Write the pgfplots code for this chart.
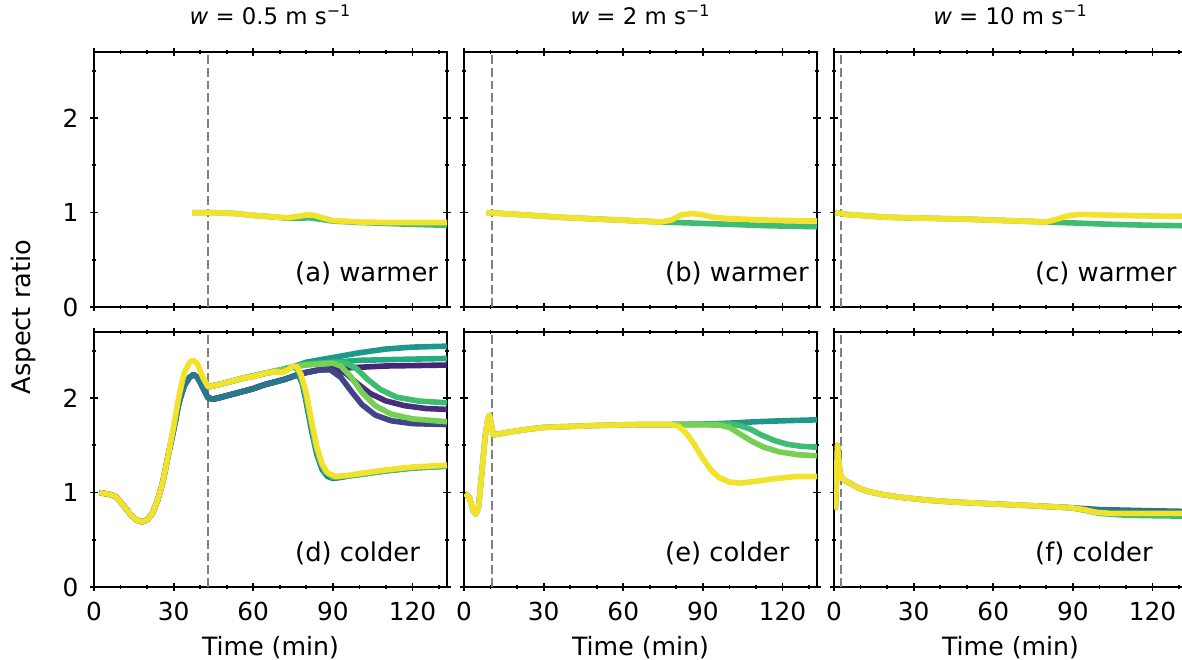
\documentclass[border=0pt]{standalone}
\usepackage{fontspec}
\setmainfont{DejaVu Sans}
\usepackage{pgfplots}
\pgfplotsset{compat=1.18}
\definecolor{vyel}{HTML}{F2E22C}
\definecolor{vgrn}{HTML}{3FBC73}
\definecolor{vlgr}{HTML}{75D054}
\definecolor{vtgr}{HTML}{25AB82}
\definecolor{vtea}{HTML}{1F988B}
\definecolor{vtbl}{HTML}{2A788E}
\definecolor{vpu1}{HTML}{482677}
\definecolor{vpu2}{HTML}{414487}
\definecolor{vpu3}{HTML}{472D7B}
\tikzset{
 vline/.style={line width=1.1pt, color=gray, dash pattern=on 4.4pt off 2pt},
 plab/.style={anchor=base west, font=\fontsize{12.9}{15}\selectfont},
}
\pgfplotsset{
 panel/.style={
  scale only axis, width=176.5pt, height=127.5pt,
  xmin=0, xmax=133, ymin=0, ymax=2.7,
  xtick={0,30,60,90,120}, minor xtick={10,20,40,50,70,80,100,110,130},
  ytick={0,1,2}, minor ytick={0.5,1.5,2.5},
  tick align=center, major tick length=3.6pt, minor tick length=2.2pt,
  tick style={black, line width=0.9pt},
  axis line style={line width=1.1pt},
  tick label style={font=\fontsize{12.4}{14}\selectfont},
  xticklabel style={yshift=-2.3pt},
  yticklabel style={xshift=-2.5pt},
  /pgf/number format/assume math mode=true,
  clip=true, anchor=south west,
  title style={at={(axis description cs:0.5,1)}, anchor=base, yshift=7.7pt, font=\fontsize{11.4}{13}\selectfont},
  xlabel style={at={(axis description cs:0.5,0)}, anchor=center, yshift=-30.5pt, font=\fontsize{12.6}{15}\selectfont},
  every axis plot/.append style={line width=2.8pt, line join=round},
 },
}
\begin{document}
\begin{tikzpicture}
% ---------------- (a)
\begin{axis}[panel, at={(47pt,176pt)}, xticklabels={}, title={\textit{w} = 0.5 m s\textsuperscript{−1}}]
\addplot[vline] coordinates {(43,0) (43,2.7)};
\addplot[vgrn] coordinates {(37,1.0) (45,1.0) (53,0.99) (60,0.97) (67,0.955) (73,0.94) (78,0.94) (81,0.945) (85,0.93) (90,0.91) (100,0.895) (110,0.885) (120,0.875) (133,0.865)};
\addplot[vyel] coordinates {(37,1.0) (45,1.0) (53,0.99) (60,0.97) (67,0.955) (73,0.945) (77,0.96) (80,0.975) (83,0.97) (86,0.945) (90,0.915) (100,0.9) (110,0.895) (120,0.895) (133,0.895)};
\node[plab] at (rel axis cs:0.55,0.1) {(a) warmer};
\end{axis}
% ---------------- (b)
\begin{axis}[panel, at={(232pt,176pt)}, xticklabels={}, yticklabels={}, title={\textit{w} = 2 m s\textsuperscript{−1}}]
\addplot[vline] coordinates {(10.6,0) (10.6,2.7)};
\addplot[vgrn] coordinates {(8.5,1.0) (20,0.98) (36,0.95) (55,0.925) (74,0.90) (85,0.89) (100,0.875) (115,0.86) (133,0.85)};
\addplot[vyel] coordinates {(8.5,1.0) (20,0.98) (36,0.95) (55,0.925) (74,0.90) (78,0.92) (82,0.975) (86,0.99) (90,0.975) (94,0.95) (100,0.935) (115,0.92) (133,0.91)};
\node[plab] at (rel axis cs:0.55,0.1) {(b) warmer};
\end{axis}
% ---------------- (c)
\begin{axis}[panel, at={(417pt,176pt)}, xticklabels={}, yticklabels={}, title={\textit{w} = 10 m s\textsuperscript{−1}}]
\addplot[vline] coordinates {(2.6,0) (2.6,2.7)};
\addplot[vgrn] coordinates {(0.4,1.0) (5,0.98) (20,0.95) (50,0.93) (80,0.90) (90,0.89) (105,0.875) (120,0.865) (133,0.86)};
\addplot[vyel] coordinates {(0.4,1.0) (5,0.98) (20,0.95) (50,0.93) (80,0.90) (84,0.93) (88,0.965) (92,0.98) (100,0.975) (115,0.965) (133,0.96)};
\node[plab] at (rel axis cs:0.55,0.1) {(c) warmer};
\end{axis}
% ---------------- (d)
\begin{axis}[panel, at={(47pt,36pt)}, xlabel={Time (min)}]
\addplot[vline] coordinates {(43,0) (43,2.7)};
% low group (dark colours)
\addplot[vpu1] coordinates {(2,1.0) (4,0.99) (6,0.98) (8,0.96) (10,0.9) (12,0.83) (14,0.76) (16,0.71) (18,0.69) (20,0.71) (22,0.78) (24,0.92) (26,1.12) (28,1.4) (30,1.66) (32,1.95) (34,2.13) (36,2.22) (37.5,2.25) (39,2.22) (41,2.11) (43,2.0) (45,1.99) (48,2.01) (52,2.04) (56,2.07) (60,2.1) (64,2.14) (68,2.17) (72,2.2) (75,2.23) (78,2.26) (85,2.3) (95,2.32) (110,2.34) (133,2.35)};
\addplot[vpu3] coordinates {(43,2.0) (45,1.99) (48,2.01) (52,2.04) (56,2.07) (60,2.1) (64,2.14) (68,2.17) (72,2.2) (75,2.23) (78,2.26) (85,2.3) (91,2.31) (95,2.26) (99,2.16) (104,2.05) (110,1.97) (117,1.92) (125,1.89) (133,1.88)};
\addplot[vpu2] coordinates {(43,2.0) (45,1.99) (48,2.01) (52,2.04) (56,2.07) (60,2.1) (64,2.14) (68,2.17) (72,2.2) (75,2.23) (78,2.26) (85,2.3) (89,2.3) (93,2.22) (97,2.07) (101,1.93) (106,1.82) (112,1.76) (120,1.73) (133,1.72)};
% high group (bright colours)
\addplot[vtea] coordinates {(43,2.12) (45,2.13) (48,2.15) (52,2.18) (56,2.21) (60,2.23) (64,2.26) (68,2.28) (72,2.31) (75,2.33) (80,2.38) (90,2.43) (100,2.48) (110,2.52) (120,2.54) (133,2.55)};
\addplot[vtgr] coordinates {(43,2.12) (48,2.15) (56,2.21) (64,2.26) (72,2.31) (75,2.33) (80,2.36) (90,2.38) (100,2.40) (115,2.41) (133,2.42)};
\addplot[vgrn] coordinates {(43,2.12) (48,2.15) (56,2.21) (64,2.26) (72,2.31) (75,2.33) (80,2.36) (90,2.38) (95,2.37) (99,2.31) (103,2.2) (108,2.09) (114,2.01) (122,1.97) (133,1.95)};
\addplot[vlgr] coordinates {(43,2.12) (48,2.15) (56,2.21) (64,2.26) (72,2.31) (75,2.33) (80,2.35) (90,2.37) (93,2.34) (97,2.22) (101,2.06) (106,1.92) (112,1.83) (120,1.78) (133,1.75)};
\addplot[vtbl] coordinates {(2,1.0) (4,0.99) (6,0.98) (8,0.96) (10,0.9) (12,0.83) (14,0.76) (16,0.71) (18,0.69) (20,0.71) (22,0.78) (24,0.92) (26,1.12) (28,1.4) (30,1.66) (32,1.95) (34,2.13) (36,2.22) (37.5,2.25) (39,2.22) (41,2.11) (43,2.0) (45,1.99) (48,2.01) (52,2.04) (56,2.07) (60,2.1) (64,2.14) (68,2.17) (72,2.2) (75,2.23) (77,2.25) (78.5,2.15) (80,1.95) (82,1.65) (84,1.4) (86,1.24) (88,1.17) (90,1.15) (93,1.16) (97,1.18) (102,1.2) (110,1.23) (120,1.26) (133,1.28)};
\addplot[vgrn] coordinates {(72,2.31) (75,2.33) (77,2.3) (79,2.12) (81,1.85) (83,1.55) (85,1.34) (87,1.22) (90,1.16) (94,1.17) (100,1.19) (110,1.23) (120,1.26) (133,1.28)};
\addplot[vyel] coordinates {(2,1.0) (4,0.99) (6,0.98) (8,0.96) (10,0.9) (12,0.83) (14,0.76) (16,0.71) (18,0.69) (20,0.71) (22,0.78) (24,0.92) (26,1.12) (28,1.4) (30,1.7) (32,2.02) (34,2.27) (36,2.38) (37.5,2.4) (39,2.36) (41,2.22) (43,2.12) (45,2.13) (48,2.15) (52,2.18) (56,2.21) (60,2.23) (64,2.26) (68,2.28) (71,2.27) (73,2.3) (75,2.34) (76.5,2.33) (78,2.25) (80,2.05) (82,1.75) (84,1.48) (86,1.3) (88,1.21) (91,1.17) (95,1.18) (100,1.2) (110,1.24) (120,1.27) (133,1.29)};
\node[plab] at (rel axis cs:0.55,0.1) {(d) colder};
\end{axis}
% ---------------- (e)
\begin{axis}[panel, at={(232pt,36pt)}, yticklabels={}, xlabel={Time (min)}]
\addplot[vline] coordinates {(10.6,0) (10.6,2.7)};
\addplot[vtea] coordinates {(0.4,0.99) (2,0.95) (3.5,0.8) (4.5,0.77) (5.5,0.85) (7,1.3) (8,1.6) (9,1.78) (9.6,1.82) (10.3,1.72) (11,1.61) (13,1.62) (17,1.64) (24,1.67) (30,1.69) (40,1.70) (50,1.71) (65,1.72) (78,1.72) (90,1.725) (100,1.735) (110,1.75) (120,1.76) (133,1.77)};
\addplot[vgrn] coordinates {(65,1.72) (78,1.72) (100,1.725) (104,1.71) (108,1.67) (112,1.61) (117,1.55) (122,1.51) (127,1.49) (133,1.48)};
\addplot[vlgr] coordinates {(65,1.72) (78,1.72) (96,1.715) (100,1.69) (104,1.62) (108,1.55) (113,1.48) (119,1.43) (126,1.40) (133,1.39)};
\addplot[vyel] coordinates {(0.4,0.99) (2,0.95) (3.5,0.8) (4.5,0.77) (5.5,0.85) (7,1.3) (8,1.6) (9,1.78) (9.6,1.82) (10.3,1.72) (11,1.61) (13,1.62) (17,1.64) (24,1.67) (30,1.69) (40,1.70) (50,1.71) (65,1.72) (78,1.72) (81,1.7) (84,1.62) (87,1.5) (90,1.36) (93,1.24) (96,1.16) (100,1.11) (104,1.1) (110,1.12) (118,1.15) (125,1.17) (133,1.17)};
\node[plab] at (rel axis cs:0.55,0.1) {(e) colder};
\end{axis}
% ---------------- (f)
\begin{axis}[panel, at={(417pt,36pt)}, yticklabels={}, xlabel={Time (min)}]
\addplot[vline] coordinates {(2.6,0) (2.6,2.7)};
\addplot[vtbl] coordinates {(0.5,0.82) (1.0,1.2) (1.3,1.5) (1.7,1.35) (2.3,1.2) (3,1.15) (4.5,1.12) (6,1.1) (9,1.05) (13,1.01) (18,0.98) (25,0.95) (35,0.92) (45,0.9) (60,0.88) (75,0.86) (89,0.84) (100,0.82) (115,0.81) (133,0.80)};
\addplot[vgrn] coordinates {(75,0.86) (89,0.84) (95,0.81) (100,0.78) (110,0.76) (120,0.755) (133,0.75)};
\addplot[vyel] coordinates {(0.5,0.82) (1.0,1.2) (1.3,1.5) (1.7,1.35) (2.3,1.2) (3,1.15) (4.5,1.12) (6,1.1) (9,1.05) (13,1.01) (18,0.98) (25,0.95) (35,0.92) (45,0.9) (60,0.88) (75,0.86) (89,0.84) (94,0.82) (99,0.79) (104,0.78) (115,0.78) (133,0.78)};
\node[plab] at (rel axis cs:0.55,0.1) {(f) colder};
\end{axis}
\node[rotate=90, font=\fontsize{12.8}{15}\selectfont] at (11.5pt,171pt) {Aspect ratio};
\pgfresetboundingbox
\path[use as bounding box] (0,0) rectangle (591pt,329.5pt);
\end{tikzpicture}
\end{document}
